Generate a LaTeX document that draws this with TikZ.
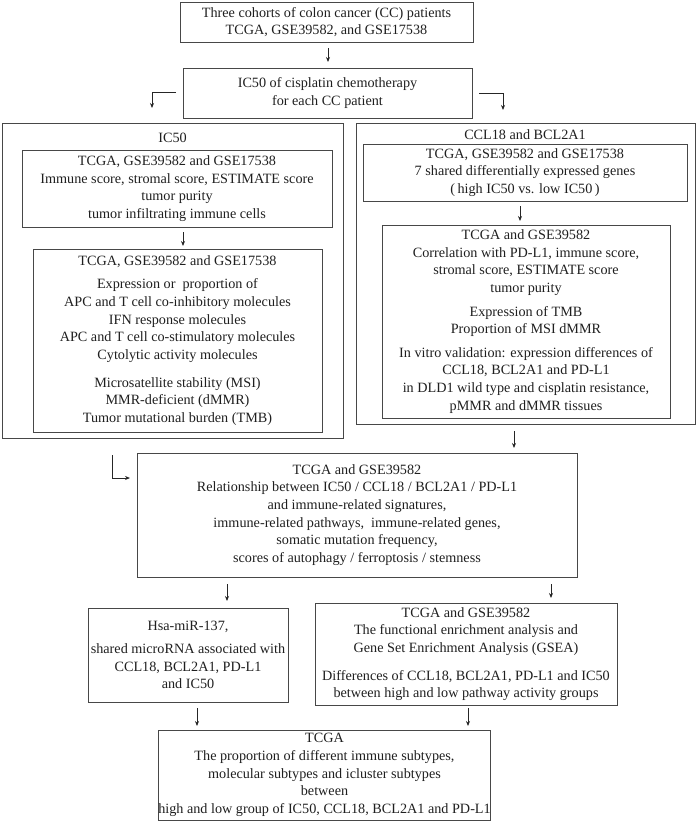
\documentclass[tikz,border=0pt]{standalone}
\usepackage{fontspec}
\setmainfont{Liberation Serif}
\usetikzlibrary{arrows.meta}
\begin{document}
\begin{tikzpicture}[x=1pt,y=-1pt,
  bx/.style={draw=black!72, line width=0.9pt, align=center, inner sep=0pt,
     font=\fontsize{14.2}{17.7}\selectfont, text=black!88},
  lbl/.style={align=center, inner sep=0pt, font=\fontsize{14.2}{17.7}\selectfont, text=black!88},
  arr/.style={draw=black!85, line width=0.9pt, -{Stealth[length=5pt,width=4pt]}}]
\useasboundingbox (0,0) rectangle (699,823);

\node[bx, minimum width=293, minimum height=40] (b1) at (326.5,22)
  {Three cohorts of colon cancer (CC) patients\\ TCGA, GSE39582, and GSE17538};
\node[bx, minimum width=289, minimum height=50] (b2) at (327.5,93)
  {IC50 of cisplatin chemotherapy\\ for each CC patient};

\node[bx, minimum width=341, minimum height=315] (lp) at (172.5,280.5) {};
\node[lbl] (lpt) at (172.5,138) {IC50};
\node[bx, minimum width=310, minimum height=77] (l1) at (177,188.5)
  {TCGA, GSE39582 and GSE17538\\ Immune score, stromal score, ESTIMATE score\\ tumor purity\\ tumor infiltrating immune cells};
\node[bx, minimum width=289, minimum height=183] (l2) at (177.5,340.5)
  {TCGA, GSE39582 and GSE17538\\[5.7pt] Expression or\ \ proportion of\\ APC and T cell co-inhibitory molecules\\ IFN response molecules\\ APC and T cell co-stimulatory molecules\\ Cytolytic activity molecules\\[10pt] Microsatellite stability (MSI)\\ MMR-deficient (dMMR)\\ Tumor mutational burden (TMB)};

\node[bx, minimum width=339, minimum height=301] (rp) at (525.5,273.5) {};
\node[lbl] (rpt) at (525,135) {CCL18 and BCL2A1};
\node[bx, minimum width=324, minimum height=57] (r1) at (525,172.5)
  {TCGA, GSE39582 and GSE17538\\ 7 shared differentially expressed genes\\ (\,high IC50 vs. low IC50\,)};
\node[bx, minimum width=288, minimum height=193] (r2) at (526,321.5)
  {TCGA and GSE39582\\ Correlation with PD-L1, immune score,\\ stromal score, ESTIMATE score\\ tumor purity\\[5.7pt] Expression of TMB\\ Proportion of MSI dMMR\\[5.7pt] In vitro validation: expression differences of\\ CCL18, BCL2A1 and PD-L1\\ in DLD1 wild type and cisplatin resistance,\\ pMMR and dMMR tissues};

\node[bx, minimum width=440, minimum height=124] (m) at (357,515)
  {TCGA and GSE39582\\ Relationship between IC50 / CCL18 / BCL2A1 / PD-L1\\ and immune-related signatures,\\ immune-related pathways,\ \ immune-related genes,\\ somatic mutation frequency,\\ scores of autophagy / ferroptosis / stemness};

\node[bx, minimum width=200, minimum height=94] (bl) at (188,655)
  {Hsa-miR-137,\\[5.3pt] shared microRNA associated with\\ CCL18, BCL2A1, PD-L1\\ and IC50};
\node[bx, minimum width=302, minimum height=102] (br) at (466,654)
  {TCGA and GSE39582\\ The functional enrichment analysis and\\ Gene Set Enrichment Analysis (GSEA)\\[10pt] Differences of CCL18, BCL2A1, PD-L1 and IC50\\ between high and low pathway activity groups};

\node[bx, minimum width=311, minimum height=90] (b) at (324.5,775)
  {TCGA\\ The proportion of different immune subtypes,\\ molecular subtypes and icluster subtypes\\ between\\ high and low group of IC50, CCL18, BCL2A1 and PD-L1};

% connector end points (free ends in the gaps between boxes)
\coordinate (a1s) at (328,48);  \coordinate (a1e) at (328,62);
\coordinate (les) at (176,92);  \coordinate (lee) at (152,108);
\coordinate (res) at (479,93);  \coordinate (ree) at (503,110);
\coordinate (a2s) at (183,232); \coordinate (a2e) at (183,246);
\coordinate (a3s) at (520,206); \coordinate (a3e) at (520,221);
\coordinate (a4s) at (514,431); \coordinate (a4e) at (514,448);
\coordinate (a5s) at (112,455); \coordinate (a5e) at (130,478);
\coordinate (a6s) at (227,584); \coordinate (a6e) at (227,601);
\coordinate (a7s) at (551,584); \coordinate (a7e) at (551,598);
\coordinate (a8s) at (197,708); \coordinate (a8e) at (197,726);
\coordinate (a9s) at (468,708); \coordinate (a9e) at (468,726);

\draw[arr] (a1s) -- (a1e);
\draw[arr] (les) -| (lee);
\draw[arr] (res) -| (ree);
\draw[arr] (a2s) -- (a2e);
\draw[arr] (a3s) -- (a3e);
\draw[arr] (a4s) -- (a4e);
\draw[arr] (a5s) |- (a5e);
\draw[arr] (a6s) -- (a6e);
\draw[arr] (a7s) -- (a7e);
\draw[arr] (a8s) -- (a8e);
\draw[arr] (a9s) -- (a9e);
\end{tikzpicture}
\end{document}
